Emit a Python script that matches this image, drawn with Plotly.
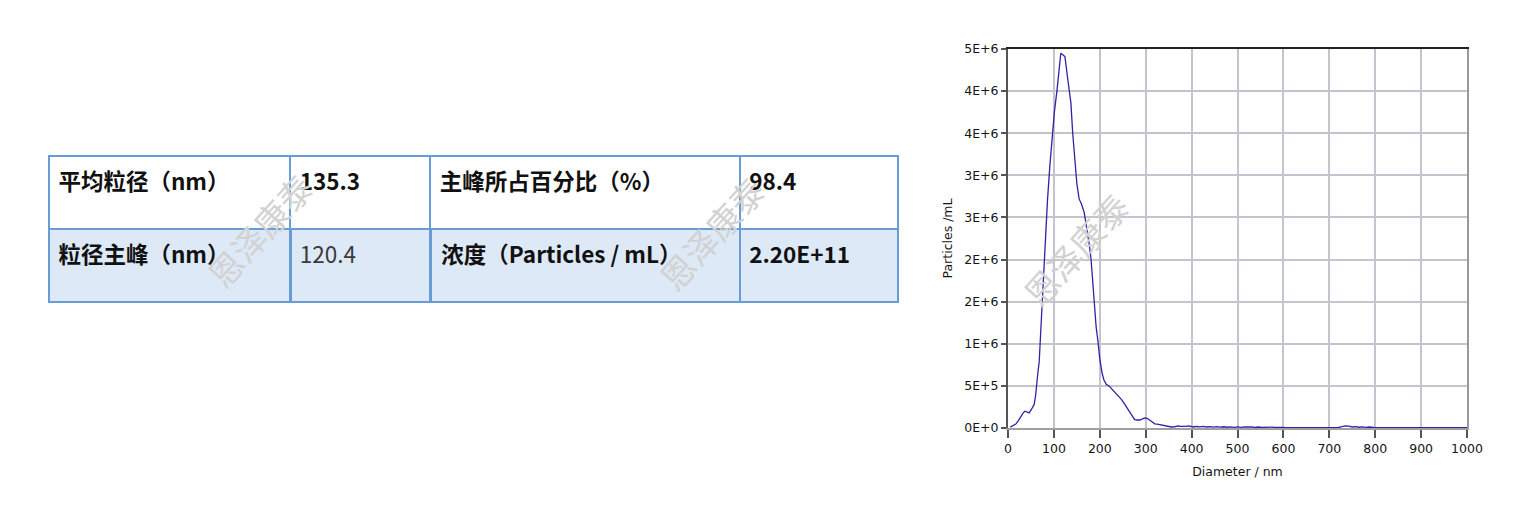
import plotly.graph_objects as go

# ---- table data ----
row1 = ["平均粒径（nm）", "135.3", "主峰所占百分比（%）", "98.4"]
row2 = ["粒径主峰（nm）", "120.4", "浓度（Particles / mL）", "2.20E+11"]
row2_bold = [True, False, True, True]
col_widths = [241, 140, 309, 158]

# ---- size distribution ----
diameter = [5, 10, 17, 23, 28, 33, 37, 42, 46, 51, 57, 60, 62, 65, 68, 71, 73, 76, 79, 83,
            86, 91, 96, 101, 107, 111, 115, 120, 124, 130, 137, 141, 146, 150, 155, 160, 166,
            171, 177, 181, 185, 188, 192, 196, 200, 205, 209, 214, 220, 225, 230, 236, 242,
            247, 252, 258, 264, 269, 273, 276, 281, 287, 292, 298, 303, 309, 315, 320, 325,
            331, 338, 345, 350, 356, 363, 371, 376, 382, 388, 393, 398, 404, 410, 418, 425,
            432, 440, 448, 455, 462, 470, 478, 485, 493, 500, 508, 515, 523, 530, 538, 545,
            553, 560, 568, 575, 583, 590, 598, 605, 650, 700, 720, 728, 735, 742, 750, 757,
            765, 772, 780, 787, 795, 800, 850, 900, 950, 1000]
conc_e6 = [0.01, 0.025, 0.047, 0.09, 0.138, 0.18, 0.2, 0.19, 0.18, 0.22, 0.28, 0.38, 0.51,
           0.65, 0.79, 1.1, 1.42, 1.75, 2.05, 2.4, 2.7, 3.1, 3.46, 3.75, 4.02, 4.25, 4.45,
           4.43, 4.41, 4.15, 3.86, 3.5, 3.14, 2.9, 2.72, 2.66, 2.56, 2.4, 2.18, 2.0, 1.7,
           1.42, 1.2, 1.03, 0.82, 0.65, 0.57, 0.52, 0.5, 0.47, 0.44, 0.41, 0.375, 0.34, 0.3,
           0.25, 0.2, 0.16, 0.12, 0.1, 0.095, 0.095, 0.105, 0.12, 0.115, 0.095, 0.07, 0.05,
           0.045, 0.04, 0.03, 0.024, 0.016, 0.012, 0.015, 0.024, 0.02, 0.016, 0.02, 0.024,
           0.016, 0.012, 0.018, 0.013, 0.018, 0.012, 0.016, 0.01, 0.016, 0.01, 0.015, 0.009,
           0.014, 0.008, 0.013, 0.008, 0.013, 0.008, 0.012, 0.008, 0.012, 0.007, 0.011,
           0.007, 0.011, 0.007, 0.01, 0.006, 0.005, 0.005, 0.005, 0.006, 0.015, 0.025,
           0.022, 0.012, 0.016, 0.009, 0.014, 0.008, 0.012, 0.007, 0.005, 0.005, 0.005,
           0.005, 0.005]
concentration = [v * 1e6 for v in conc_e6]

x_ticks = [0, 100, 200, 300, 400, 500, 600, 700, 800, 900, 1000]
y_ticks = [0, 5e5, 1e6, 1.5e6, 2e6, 2.5e6, 3e6, 3.5e6, 4e6, 4.5e6]
y_ticklabels = ["0E+0", "5E+5", "1E+6", "2E+6", "2E+6", "3E+6", "3E+6", "4E+6", "4E+6", "5E+6"]

watermark = "恩泽康泰"

# page offset of the plot div (default body margin)
OX, OY = 8, 7
W, H = 1534 - 2 * OX, 508 - 2 * OY


def px(x):
    return (x - OX) / W


def py(y):
    return 1 - (y - OY) / H


BORDER = "#679cd5"
FILL2 = "#dde9f6"
CJK = "Noto Sans CJK SC"


def fmt(t, bold):
    return f"<b>{t}</b>" if bold else f"<span>{t}</span>"


fig = go.Figure()

fig.add_trace(go.Table(
    domain=dict(x=[px(49), px(898)], y=[0, py(155)]),
    columnwidth=col_widths,
    header=dict(
        values=[fmt(t, True) for t in row1],
        prefix="\u200a",
        fill_color="white",
        line=dict(color=BORDER, width=2),
        align="left",
        height=73,
        font=dict(family=CJK, size=22.5, color="#111111"),
    ),
    cells=dict(
        values=[[fmt(t, b)] for t, b in zip(row2, row2_bold)],
        prefix="\u200a",
        fill_color=FILL2,
        line=dict(color=BORDER, width=2.5),
        align="left",
        height=73,
        font=dict(family=CJK, size=22.5, color=["#111111", "#3a3a3a", "#111111", "#111111"]),
    ),
))

fig.add_trace(go.Scatter(
    x=diameter, y=concentration, mode="lines",
    line=dict(color="#2e22a6", width=1.3),
    xaxis="x", yaxis="y", showlegend=False, hoverinfo="skip",
))

axis_font = dict(family="DejaVu Sans", size=12.5, color="#151515")

fig.update_layout(
    width=W, height=H,
    margin=dict(l=0, r=0, t=0, b=0, pad=0, autoexpand=False),
    paper_bgcolor="white", plot_bgcolor="white",
    showlegend=False,
    xaxis=dict(
        domain=[px(1008), px(1467)], range=[0, 1000],
        tickvals=x_ticks, ticktext=[str(v) for v in x_ticks],
        showgrid=True, gridcolor="#c4c4ce", gridwidth=1.5,
        zeroline=False,
        showline=True, linecolor="#a0a0a0", linewidth=2,
        ticks="outside", ticklen=8, tickwidth=1.5, tickcolor="#555555",
        tickfont=axis_font,
        title=dict(text="Diameter / nm", font=axis_font, standoff=12),
        fixedrange=True,
    ),
    yaxis=dict(
        domain=[py(427), py(48)], range=[0, 4.5e6],
        tickvals=y_ticks, ticktext=y_ticklabels,
        showgrid=True, gridcolor="#c4c4ce", gridwidth=1.5,
        zeroline=False,
        showline=True, linecolor="#555555", linewidth=2,
        ticks="outside", ticklen=5, tickwidth=1.5, tickcolor="#555555",
        tickfont=axis_font,
        title=dict(text="Particles /mL", font=axis_font, standoff=9),
        fixedrange=True,
    ),
    xaxis2=dict(
        overlaying="x", side="top", range=[0, 1000],
        showline=True, linecolor="#222222", linewidth=2,
        showticklabels=False, ticks="", showgrid=False, zeroline=False,
        domain=[px(1008), px(1467)],
    ),
    yaxis2=dict(
        overlaying="y", side="right", range=[0, 4.5e6],
        showline=True, linecolor="#9a9a9a", linewidth=2,
        showticklabels=False, ticks="", showgrid=False, zeroline=False,
    ),
)

# invisible trace to anchor the frame axes
fig.add_trace(go.Scatter(x=[None], y=[None], xaxis="x2", yaxis="y2",
                         showlegend=False, hoverinfo="skip"))

for cx, cy in [(259, 229), (711, 232), (1075, 248)]:
    fig.add_annotation(
        x=px(cx), y=py(cy), xref="paper", yref="paper",
        text=watermark, showarrow=False, textangle=-48,
        font=dict(family=CJK, size=34, color="#d2d2d2"),
        xanchor="center", yanchor="middle",
    )

fig.write_html("out.html")
